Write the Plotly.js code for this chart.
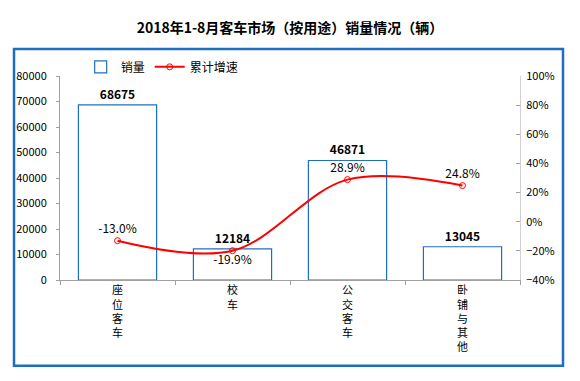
<!DOCTYPE html>
<html>
<head>
<meta charset="utf-8">
<script src="https://cdn.plot.ly/plotly-3.0.1.min.js"></script>
<style>html,body{margin:0;padding:0;background:#fff;}#chart{width:580px;height:381px;}</style>
</head>
<body>
<div id="chart"></div>
<script>
const categories = ["座位客车", "校车", "公交客车", "卧铺与其他"];
const sales = [68675, 12184, 46871, 13045];
const growth = [-13.0, -19.9, 28.9, 24.8];
const growthLabels = ["-13.0%", "-19.9%", "28.9%", "24.8%"];
const growthLabelPos = ["top center", "bottom center", "top center", "top center"];
const tickLabels = categories.map(c => c.split("").join("<br>"));

const FONT = "'Noto Sans CJK SC', 'Microsoft YaHei', sans-serif";
const BLUE = "#1f6fc0";

const traces = [
  {
    type: "bar",
    name: "销量",
    x: categories,
    y: sales,
    width: 0.68,
    marker: {color: "#ffffff", line: {color: BLUE, width: 1.2}},
    text: sales.map(String),
    texttemplate: "<b>%{text}</b>",
    textposition: "outside",
    cliponaxis: false,
    textfont: {family: FONT, size: 12, color: "#000"},
    hoverinfo: "none"
  },
  {
    type: "scatter",
    name: "累计增速",
    x: categories,
    y: growth,
    yaxis: "y2",
    mode: "lines+markers+text",
    line: {color: "#ff0000", width: 2, shape: "spline", smoothing: 1},
    marker: {symbol: "circle-open", size: 6, color: "#ff0000", line: {width: 1}},
    text: growthLabels,
    textposition: growthLabelPos,
    cliponaxis: false,
    textfont: {family: FONT, size: 12, color: "#000"},
    hoverinfo: "none"
  }
];

const layout = {
  width: 580, height: 381,
  margin: {l: 60, r: 60, t: 76, b: 101},
  paper_bgcolor: "#fff", plot_bgcolor: "rgba(0,0,0,0)",
  font: {family: FONT, size: 11, color: "#000"},
  title: {text: "<b>2018年1-8月客车市场（按用途）销量情况（辆）</b>", x: 0.5, xanchor: "center", y: 0.925, yanchor: "middle", font: {family: FONT, size: 14, color: "#000"}},
  showlegend: true,
  legend: {orientation: "h", x: 0.045, y: 1.045, xanchor: "left", yanchor: "middle", font: {family: FONT, size: 12}, bgcolor: "rgba(0,0,0,0)", itemwidth: 30, tracegroupgap: 0},
  bargap: 0.32,
  xaxis: {
    type: "category",
    tickmode: "array", tickvals: categories, ticktext: tickLabels,
    tickson: "boundaries", ticks: "outside", ticklen: 4, tickcolor: "#a0a0a0",
    showline: true, linecolor: "#a0a0a0", linewidth: 1,
    showgrid: false, zeroline: false,
    tickfont: {family: FONT, size: 11}, fixedrange: true
  },
  yaxis: {
    range: [0, 80000], dtick: 10000, tickformat: "d",
    showgrid: false, zeroline: false,
    showline: true, linecolor: "#a0a0a0", linewidth: 1,
    ticks: "outside", ticklen: 3, tickcolor: "#a0a0a0",
    ticklabelstandoff: 7,
    tickfont: {family: FONT, size: 11}, fixedrange: true
  },
  yaxis2: {
    overlaying: "y", side: "right",
    range: [-40, 100], dtick: 20, ticksuffix: "%",
    showgrid: false, zeroline: false,
    showline: true, linecolor: "#d0d0d0", linewidth: 1,
    ticks: "inside", ticklen: 4, tickcolor: "#a0a0a0",
    ticklabelstandoff: 3,
    tickfont: {family: FONT, size: 11}, fixedrange: true
  },
  shapes: [
    {type: "rect", xref: "paper", yref: "paper", x0: -0.1, x1: 1.0935, y0: -0.42, y1: 1.132,
     line: {color: BLUE, width: 2.5}, fillcolor: "rgba(0,0,0,0)", layer: "below"}
  ]
};

Plotly.newPlot("chart", traces, layout, {displayModeBar: false, staticPlot: true});
</script>
</body>
</html>
